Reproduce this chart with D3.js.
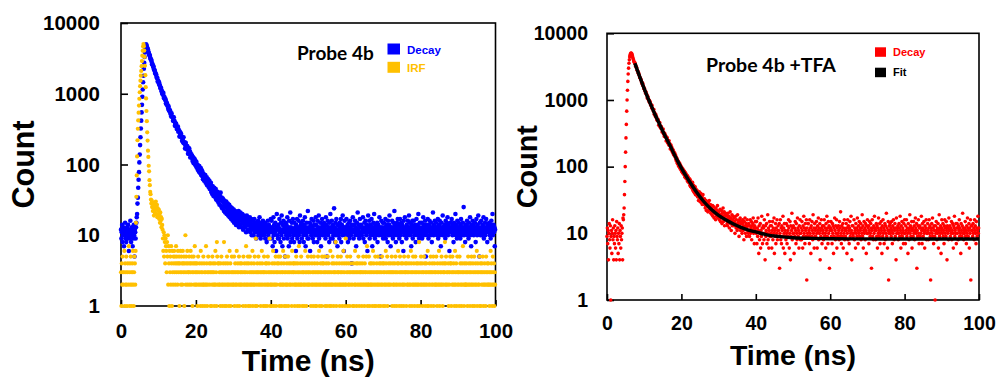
<!DOCTYPE html>
<html>
<head>
<meta charset="utf-8">
<script src="https://cdn.jsdelivr.net/npm/d3@7"></script>
<style>
  html, body { margin: 0; padding: 0; background: #fff; }
  svg { display: block; }
</style>
</head>
<body>
<svg id="fig" width="999" height="381"></svg>
<script>
// TCSPC histograms, one value per 0.1 ns channel from 0 to 99.9 ns
const CHANNEL_NS = 0.1;
const timeTicks = [0, 20, 40, 60, 80, 100];
const countTicks = [1, 10, 100, 1000, 10000];

// Probe 4b fluorescence decay
const decayCounts = [
  12, 9, 11, 14, 8, 10, 13, 11, 7, 12, 10, 15, 9, 11, 8, 12, 13, 10, 9, 14,
  11, 6, 10, 12, 9, 16, 11, 8, 10, 13, 12, 7, 11, 9, 14, 10, 5, 12, 11, 9, 13, 15,
  18, 20, 28, 34, 47, 61, 78, 107, 138, 188, 243, 322, 417, 545, 697, 905, 1148, 1455, 1796, 2262,
  2741, 3310, 3842, 4361, 4738, 5010,
  4838, 4548, 4510, 4260, 4217, 3908, 3812, 3569, 3566, 3458,
  3239, 3097, 3041, 2988, 2799, 2612, 2637, 2510, 2391, 2430,
  2202, 2182, 2127, 1959, 1969, 1875, 1873, 1721, 1674, 1672,
  1492, 1530, 1504, 1391, 1436, 1316, 1305, 1201, 1202, 1201,
  1092, 1098, 998, 1040, 987, 1028, 913, 864, 896, 854,
  813, 836, 731, 761, 705, 731, 678, 675, 616, 667,
  579, 602, 568, 580, 523, 535, 477, 528, 477, 474,
  472, 417, 420, 465, 407, 410, 354, 383, 349, 379,
  349, 318, 341, 317, 343, 291, 312, 293, 248, 292,
  261, 251, 277, 247, 250, 216, 242, 230, 204, 243,
  199, 203, 206, 168, 186, 202, 183, 164, 165, 182,
  173, 142, 158, 143, 170, 142, 154, 126, 142,
  129, 139, 125, 133, 112, 127, 121, 104, 122, 110,
  118, 99, 108, 96, 110, 91, 101, 98, 84, 97,
  92, 79, 95, 88, 76, 85, 89, 71, 80, 83,
  68, 77, 62, 74, 72, 59, 70, 63, 71, 55,
  64, 58, 66, 51, 60, 53, 62, 48, 56, 59,
  45, 53, 47, 55, 41, 50, 44, 38, 49, 46,
  36, 44, 47, 35, 42, 39, 45, 32, 40, 37,
  31, 41, 34, 29, 38, 35, 27, 36, 33, 40,
  26, 31, 34, 24, 30, 33, 25, 29, 22, 31,
  27, 21, 28, 25, 30, 20, 26, 23, 28, 19,
  24, 21, 27, 18, 23, 20, 25, 17, 22, 19,
  24, 16, 21, 18,
  23, 15, 20, 17, 22, 19, 14, 21, 18, 16, 20, 15, 18, 22, 13, 17, 19, 14, 21, 16,
  18, 13, 16, 20, 15, 12, 17, 19, 14, 16, 13, 18, 15, 11, 16, 19, 14, 12, 17, 15,
  16, 12, 14, 18, 11, 15, 13, 17, 10, 14, 12, 16, 14, 10, 13, 17, 11, 15, 12, 14,
  9, 13, 15, 11, 12, 16, 10, 14, 12, 18, 11, 13, 9, 15, 12, 10, 14, 12, 16, 11,
  13, 10, 12, 15, 9, 11, 14, 12, 8, 13, 11, 16, 10, 12, 14, 9, 11, 13, 12, 17,
  11, 16, 9, 13, 7, 12, 18, 10, 14, 8, 11, 15, 12, 6, 13, 20, 10, 12, 9, 14,
  13, 9, 17, 11, 12, 8, 15, 10, 19, 12, 7, 14, 11, 16, 9, 12, 13, 5, 11, 15,
  10, 14, 12, 18, 9, 11, 13, 7, 16, 10, 12, 21, 8, 13, 11, 15, 9, 12, 17, 10,
  12, 8, 15, 11, 13, 10, 6, 14, 12, 17, 9, 11, 13, 16, 10, 12, 8, 19, 11, 14,
  15, 11, 9, 13, 12, 16, 10, 8, 14, 11, 18, 12, 7, 13, 10, 15, 11, 9, 22, 12,
  9, 13, 11, 15, 6, 12, 14, 10, 17, 11, 13, 9, 12, 16, 8, 11, 14, 10, 12, 18,
  14, 10, 12, 8, 16, 11, 13, 19, 9, 12, 10, 15, 11, 7, 13, 12, 17, 10, 14, 11,
  11, 15, 13, 10, 12, 9, 18, 11, 14, 5, 12, 16, 10, 13, 11, 8, 15, 12, 20, 9,
  13, 11, 16, 12, 9, 14, 10, 12, 24, 11, 13, 8, 15, 10, 17, 12, 11, 7, 14, 12,
  10, 12, 9, 15, 13, 11, 17, 8, 12, 14, 10, 19, 11, 13, 6, 12, 16, 10, 13, 11,
  12, 17, 11, 10, 14, 8, 13, 12, 15, 9, 11, 16, 13, 10, 12, 4, 14, 11, 18, 12,
  9, 12, 14, 11, 16, 10, 13, 7, 12, 15, 11, 21, 10, 12, 14, 9, 11, 17, 13, 10,
  14, 11, 10, 13, 12, 18, 9, 12, 11, 15, 8, 13, 16, 11, 10, 12, 14, 6, 13, 19,
  11, 13, 16, 9, 12, 10, 14, 11, 17, 12, 7, 13, 10, 15, 12, 20, 11, 9, 14, 12,
  13, 10, 12, 15, 8, 11, 14, 12, 10, 18, 13, 11, 5, 12, 16, 10, 13, 11, 15, 9,
  12, 15, 11, 13, 10, 17, 9, 12, 14, 11, 13, 8, 16, 12, 10, 14, 19, 11, 12, 7,
  10, 13, 12, 16, 11, 9, 15, 13, 12, 22, 10, 14, 11, 8, 13, 12, 15, 10, 17, 11,
  14, 12, 9, 11, 17, 13, 10, 15, 12, 8, 14, 11, 13, 6, 16, 12, 10, 18, 11, 13,
  11, 9, 14, 12, 10, 16, 13, 11, 19, 12, 15, 10, 13, 12, 7, 14, 11, 16, 9, 12,
  13, 16, 10, 12, 14, 11, 8, 13, 17, 12, 10, 14, 11, 20, 12, 9, 13, 15, 11, 10,
  12, 10, 15, 9, 13, 12, 18, 11, 14, 10, 12, 16, 13, 5, 11, 14, 12, 10, 17, 13,
  9, 14, 12, 16, 11, 13, 10, 15, 12, 8, 13, 11, 21, 12, 10, 14, 11, 16, 13, 12,
  15, 11, 13, 10, 12, 17, 9, 12, 14, 11, 16, 10, 13, 7, 12, 15, 11, 13, 19, 10,
  11, 13, 10, 14, 12, 9, 16, 13, 11, 15, 12, 18, 10, 14, 11, 13, 6, 12, 15, 11,
  13, 12, 17, 11, 10, 14, 12, 8, 15, 13, 11, 12, 20, 10, 14, 12, 9, 16, 11, 13,
  10, 15, 12, 13, 11, 9, 14, 17, 12, 10, 13, 11, 15, 12, 25, 10, 13, 11, 8, 14,
  12, 11, 14, 16, 10, 13, 12, 9, 15, 11, 13, 18, 10, 12, 7, 14, 11, 13, 16, 12,
  14, 10, 12, 11, 15, 13, 8, 12, 17, 11, 10, 14, 12, 19, 13, 11, 5, 15, 12, 10,
  11, 16, 13, 10, 12, 14, 11, 18, 9, 13, 12, 15, 10, 12, 17, 11, 13, 8, 14, 12,
  13, 11, 15, 12, 10, 14, 9, 12, 16, 11, 13, 20, 10, 12, 14, 11, 13, 7, 12
];

// Instrument response function (zero-count channels are not drawn on the log axis)
const irfCounts = [
  3, 1, 4, 2, 5, 3, 2, 0, 3, 6, 1, 4, 2, 3, 5, 2, 1, 3, 4, 0,
  2, 7, 3, 1, 4, 2, 5, 3, 1, 2, 4, 3, 6, 2, 1, 3, 5, 4, 2,
  6, 15, 35, 70, 130, 220, 320, 420, 540, 680, 850, 1050, 1280, 1530, 1800, 2100,
  2450, 2900, 3450, 4050, 4650, 5050,
  4700, 4080, 3320, 2480, 1830, 1240, 860, 570, 410, 285,
  218, 157, 128, 96, 80, 60, 51, 41, 38, 32,
  28, 31, 25, 29, 22, 27, 24, 19, 26, 21,
  28, 23, 30, 20, 25, 27, 18, 24, 22, 19,
  23, 17, 20, 15, 21, 16, 18, 13, 17, 14,
  12, 9, 6, 11, 5, 10, 8, 4, 9, 7,
  6, 3, 8, 5, 10, 2, 7, 4, 1, 6,
  3, 5, 2, 7, 4, 1, 6, 3, 2, 5,
  4, 6, 3, 5, 2, 4, 7, 3, 5, 4, 2, 6, 3, 4, 5, 1, 4, 3, 6, 2,
  5, 3, 4, 2, 6, 4, 3, 5, 1, 4, 3, 10, 2, 5, 4, 3, 6, 2, 4, 3,
  3, 5, 2, 4, 3, 6, 4, 2, 5, 3, 1, 4, 3, 5, 2, 4, 7, 3, 2, 4,
  3, 2, 4, 1, 3, 5, 2, 0, 3, 4, 2, 1, 6, 3, 2, 4, 3, 1, 2, 5,
  2, 4, 3, 1, 2, 3, 7, 2, 4, 1, 3, 2, 5, 3, 0, 4, 2, 3, 1, 4,
  3, 1, 2, 5, 3, 4, 2, 3, 1, 2, 4, 6, 2, 3, 1, 8, 5, 2, 4, 0,
  4, 2, 3, 2, 1, 4, 3, 5, 2, 3, 1, 2, 4, 3, 8, 2, 1, 3, 4, 2,
  1, 3, 5, 2, 4, 3, 2, 1, 3, 6, 2, 4, 1, 3, 2, 5, 3, 0, 2, 3,
  2, 5, 1, 3, 4, 2, 3, 2, 6, 1, 3, 4, 2, 3, 5, 1, 2, 4, 3, 2,
  3, 4, 2, 0, 3, 1, 5, 2, 3, 4, 2, 3, 1, 7, 2, 4, 3, 2, 5, 1,
  4, 2, 3, 5, 1, 2, 3, 4, 2, 3, 6, 1, 2, 3, 4, 2, 5, 3, 1, 9,
  2, 3, 1, 4, 3, 2, 5, 3, 0, 2, 4, 3, 1, 2, 3, 6, 4, 2, 3, 1,
  3, 5, 2, 3, 1, 4, 2, 3, 4, 1, 2, 5, 3, 2, 4, 3, 9, 1, 2, 3,
  2, 1, 3, 4, 2, 6, 3, 1, 2, 4, 3, 2, 5, 1, 3, 2, 4, 3, 0, 5,
  4, 3, 1, 2, 5, 3, 2, 4, 1, 3, 2, 3, 6, 2, 4, 1, 3, 5, 2, 3,
  1, 2, 4, 3, 2, 5, 1, 3, 4, 2, 3, 0, 2, 4, 3, 1, 6, 2, 3, 4,
  3, 4, 2, 1, 3, 2, 4, 5, 2, 3, 1, 4, 2, 3, 7, 2, 1, 3, 4, 2,
  5, 2, 3, 1, 4, 3, 2, 3, 1, 2, 4, 6, 3, 2, 1, 3, 4, 2, 5, 3,
  2, 3, 4, 2, 0, 3, 1, 5, 2, 4, 3, 2, 1, 3, 5, 2, 4, 3, 1, 2,
  3, 1, 2, 4, 3, 5, 2, 3, 6, 1, 2, 3, 4, 2, 3, 1, 5, 4, 2, 3,
  4, 2, 5, 3, 1, 2, 3, 4, 2, 1, 3, 5, 2, 4, 3, 2, 1, 3, 6, 2,
  1, 3, 2, 4, 5, 2, 3, 1, 4, 3, 2, 3, 8, 2, 1, 4, 3, 2, 5, 3,
  3, 2, 4, 1, 2, 3, 5, 2, 3, 4, 1, 2, 3, 6, 2, 4, 3, 1, 2, 9,
  2, 4, 3, 5, 1, 3, 2, 4, 2, 3, 1, 5, 3, 2, 4, 0, 3, 2, 1, 3,
  4, 1, 3, 2, 6, 2, 3, 4, 1, 3, 2, 4, 3, 5, 2, 1, 3, 4, 2, 3,
  3, 2, 1, 4, 3, 2, 5, 3, 2, 1, 4, 3, 2, 3, 5, 2, 7, 1, 3, 2,
  2, 5, 3, 1, 4, 2, 3, 2, 4, 3, 1, 2, 6, 3, 4, 2, 1, 3, 5, 2,
  1, 3, 4, 2, 3, 5, 2, 1, 3, 4, 2, 3, 1, 4, 2, 3, 5, 2, 4, 1,
  3, 4, 2, 3, 1, 2, 6, 4, 3, 2, 5, 1, 3, 2, 4, 3, 2, 0, 3, 4,
  2, 3, 5, 1, 3, 4, 2, 3, 2, 1, 4, 3, 5, 2, 3, 1, 2, 4, 3, 6,
  4, 2, 1, 3, 5, 2, 3, 4, 1, 3, 2, 4, 3, 2, 1, 5, 3, 2, 4, 3,
  3, 1, 4, 2, 3, 2, 5, 3, 4, 2, 1, 3, 2, 6, 4, 3, 1, 2, 3, 5,
  2, 4, 3, 1, 2, 5, 3, 2, 4, 3, 1, 2, 4, 3, 2, 8, 1, 3, 4, 2,
  5, 3, 2, 4, 1, 3, 2, 3, 5, 2, 4, 1, 3, 2, 4, 3, 2, 1, 6, 3,
  1, 2, 3, 4, 2, 3, 5, 1, 3, 2, 4, 3, 2, 5, 1, 3, 4, 2, 3, 2,
  3, 5, 2, 1, 4, 3, 2, 3, 6, 2, 1, 4, 3, 2, 3, 5, 2, 4, 1, 3,
  2, 3, 4, 3, 8, 2, 4, 5, 2, 3, 0, 3, 2, 4, 1, 3, 2, 3, 5, 4,
  4, 1, 3, 2, 5, 3, 2, 4, 3, 1, 2, 6, 3, 2, 4, 1, 3, 5, 2, 3,
  3, 2, 1, 5, 3, 4, 2, 3, 1, 2, 4, 3, 7, 2, 3, 1, 4, 2, 3, 2,
  2, 4, 3, 2, 1, 3, 5, 2, 4, 3, 2, 1, 3, 4, 2, 5, 3, 2, 1, 4,
  3, 2, 5, 1, 3, 2, 4, 3, 2, 6, 1, 3, 4, 2, 3, 2, 5, 1, 3, 4,
  1, 3, 2, 4, 3, 5, 2, 1, 3, 2, 4, 3, 2, 1, 5, 3, 2, 4, 3, 2,
  4, 2, 3, 1, 2, 3, 6, 2, 4, 3, 1, 2, 5, 3, 2, 4, 1, 3, 2
];

// Probe 4b + TFA fluorescence decay
const tfaCounts = [
  9, 12, 7, 11, 4, 10, 14, 8, 6, 13, 1, 9, 11, 5, 10, 16, 8, 12, 4, 9,
  7, 13, 10, 6, 11, 4, 15, 9, 8, 12, 5, 10, 7, 14, 4, 11, 9, 6, 13, 8,
  10, 12, 4, 17, 16, 19,
  24, 38, 60, 100, 165, 270, 430, 680, 1000, 1400, 1900, 2450, 3000, 3550, 4000, 4400,
  4700, 4900, 5000, 5050,
  4990, 4870, 4650, 4420, 4200, 4000, 3830, 3700,
  3643, 3622, 3437, 3217, 3222, 3051, 3042, 2802, 2753, 2686,
  2514, 2553, 2379, 2360, 2159, 2172, 2122, 1997, 1995, 1829,
  1838, 1725, 1777, 1638, 1610, 1473, 1492, 1475, 1361, 1347,
  1264, 1316, 1209, 1208, 1074, 1123, 1113, 1020, 1014, 941,
  978, 910, 940, 842, 843, 838, 757, 829, 743, 737,
  716, 679, 718, 612, 644, 607, 567, 609, 548, 563,
  500, 518, 486, 515, 483, 417, 464, 429, 456, 391,
  402, 375, 400, 374, 330, 360, 337, 366, 308, 321,
  283, 316, 282, 296, 280, 242, 278, 250, 272, 227,
  246, 232, 212, 245, 212, 221, 184, 203, 211, 181,
  196, 169, 182, 160, 178, 151, 165, 147, 160, 139, 151, 128, 140, 121, 133, 112, 125, 108, 119, 101,
  114, 97, 110, 92, 104, 89, 99,
  84, 95, 81, 92, 78, 88, 76, 85, 70, 82, 69, 79, 66, 75, 73, 61, 72, 59, 68, 64,
  57, 66, 52, 63, 50, 59, 49, 56, 47, 58, 44, 53, 42, 51, 48, 40, 50, 38, 46, 43,
  39, 44, 36, 35, 41, 31, 38, 42, 33, 30, 37, 40, 29, 34, 36, 27, 33, 38, 28, 31,
  27, 33, 29, 24, 26, 31, 22, 28, 30, 25, 21, 29, 26, 23, 31, 22, 24, 27, 20, 25,
  24, 19, 21, 26, 18, 22, 25, 17, 20, 23, 21, 16, 24, 19, 18, 22, 26, 17, 20, 19,
  21, 16, 18, 23, 15, 19, 17, 22, 14, 20, 18, 24, 15, 17, 21, 13, 19, 16, 20, 18,
  16, 19, 14, 13, 20, 17, 15, 18, 12, 16, 21, 14, 17, 11, 15, 19, 13, 16, 18, 14,
  13, 17, 15, 10, 14, 18, 12, 16, 13, 11, 19, 14, 12, 15, 9, 16, 13, 17, 11, 14,
  12, 15, 10, 14, 16, 11, 13, 8, 15, 12, 17, 10, 13, 14, 9, 12, 16, 11, 13, 10,
  14, 11, 9, 13, 16, 10, 12, 15, 8, 13, 11, 14, 17, 10, 12, 7, 13, 11, 15, 12,
  10, 15, 7, 12, 9, 17, 11, 5, 13, 8, 10, 14, 6, 11, 9, 18, 12, 7, 10, 13,
  12, 8, 16, 10, 4, 13, 9, 11, 14, 7, 10, 19, 8, 12, 6, 11, 15, 9, 13, 10,
  9, 13, 6, 11, 15, 8, 12, 10, 17, 5, 11, 9, 14, 7, 12, 10, 16, 8, 11, 13,
  11, 9, 14, 3, 10, 16, 8, 12, 7, 13, 11, 9, 18, 6, 12, 10, 14, 5, 11, 9,
  8, 14, 10, 7, 13, 11, 9, 16, 12, 6, 10, 15, 4, 13, 9, 11, 20, 8, 12, 10,
  13, 10, 5, 12, 9, 15, 11, 7, 14, 10, 8, 17, 12, 9, 11, 6, 13, 10, 16, 8,
  10, 12, 8, 15, 11, 6, 13, 9, 18, 10, 12, 7, 14, 11, 9, 16, 2, 12, 10, 14,
  14, 9, 11, 7, 16, 10, 12, 5, 13, 9, 15, 11, 8, 19, 10, 12, 6, 14, 9, 11,
  9, 12, 15, 10, 6, 13, 11, 17, 8, 12, 10, 14, 4, 11, 9, 16, 12, 7, 13, 10,
  11, 8, 13, 16, 9, 12, 10, 6, 14, 11, 18, 9, 12, 7, 15, 10, 13, 3, 11, 12,
  12, 15, 9, 11, 7, 14, 10, 13, 5, 12, 9, 17, 11, 8, 13, 10, 16, 6, 12, 9,
  10, 13, 11, 8, 15, 9, 12, 21, 10, 7, 13, 11, 9, 14, 6, 12, 10, 16, 8, 11,
  9, 11, 14, 12, 5, 10, 16, 8, 13, 11, 7, 12, 15, 9, 10, 18, 11, 4, 13, 10,
  13, 9, 10, 16, 8, 12, 11, 6, 14, 10, 12, 9, 17, 11, 7, 13, 10, 15, 9, 12,
  11, 14, 8, 12, 10, 19, 9, 13, 6, 11, 15, 10, 12, 8, 14, 11, 5, 13, 10, 16,
  10, 12, 13, 7, 11, 15, 9, 10, 14, 12, 3, 11, 16, 9, 12, 8, 13, 10, 18, 11,
  12, 8, 11, 14, 9, 13, 6, 12, 10, 17, 11, 9, 14, 7, 10, 12, 15, 11, 5, 13,
  9, 16, 10, 12, 7, 11, 14, 8, 13, 10, 20, 9, 12, 6, 11, 15, 2, 10, 13, 11,
  14, 10, 12, 9, 15, 11, 7, 13, 10, 16, 12, 8, 11, 14, 9, 12, 4, 17, 10, 12,
  11, 13, 8, 10, 14, 12, 9, 18, 11, 6, 13, 10, 15, 9, 12, 11, 7, 14, 10, 16,
  10, 7, 13, 11, 16, 9, 12, 10, 5, 14, 11, 8, 12, 19, 10, 13, 9, 11, 15, 6,
  12, 11, 9, 15, 10, 13, 8, 11, 17, 12, 10, 14, 3, 11, 9, 13, 16, 10, 7, 12,
  13, 9, 12, 10, 18, 11, 7, 14, 12, 9, 11, 15, 10, 6, 13, 11, 12, 16, 8, 10,
  10, 14, 11, 8, 12, 16, 10, 13, 9, 2, 12, 11, 14, 10, 17, 9, 12, 7, 13, 11,
  9, 1, 13, 10, 15, 11, 8, 12, 10, 14, 6, 11, 19, 9, 12, 10, 13, 5, 11, 16,
  12, 10, 14, 9, 11, 7, 13, 16, 10, 12, 9, 15, 11, 4, 13, 10, 12, 8, 17, 11,
  11, 13, 9, 12, 10, 15, 8, 11, 14, 10, 6, 13, 12, 18, 9, 11, 10, 14, 7, 12,
  14, 10, 12, 8, 13, 11, 16, 9, 12, 10, 5, 14, 11, 9, 13, 20, 10, 12, 8, 11,
  10, 12, 15, 9, 11, 7, 13, 10, 17, 12, 9, 11, 14, 6, 12, 10, 16, 2, 13, 11,
  13, 11, 9, 14, 10, 12, 8, 16, 11, 13, 10, 7, 15, 12, 9, 11, 18, 10, 12
];

// Fitted decay curve for the TFA sample
const fitTime   = [7.5, 8, 9, 10, 11, 12, 13, 14, 15, 16, 17, 18, 19, 20, 22, 24, 26, 28, 30,
                   32, 34, 36, 38, 40, 43, 46, 50, 55, 60, 70, 80, 90, 100];
const fitCounts = [3550, 2950, 2090, 1480, 1070, 794, 589, 447, 339, 263, 204, 156, 121, 95, 62, 42, 30, 23, 18.6,
                   15.8, 13.8, 12.3, 11.2, 10.5, 9.5, 9.0, 8.6, 8.4, 8.3, 8.25, 8.2, 8.2, 8.2];

const BLUE = "#0000ff", GOLD = "#ffc000", RED = "#ff0000", BLACK = "#000000";
const AXIS_FONT = "'Liberation Sans', Arial, Helvetica, sans-serif";
const TITLE_FONT = "Lato, 'Open Sans', 'Noto Sans', sans-serif";

const svg = d3.select("#fig");

function toPoints(counts) {
  return counts
    .map((c, i) => ({ t: i * CHANNEL_NS, c }))
    .filter(d => d.c > 0 && d.t <= 100);
}

function drawPanel(o) {
  const x = d3.scaleLinear().domain([0, 100]).range([o.left, o.right]);
  const y = d3.scaleLog().domain([1, 10000]).range([o.bottom, o.top]);
  const g = svg.append("g");

  g.append("rect")
    .attr("x", o.left).attr("y", o.top)
    .attr("width", o.right - o.left).attr("height", o.bottom - o.top)
    .attr("fill", "none").attr("stroke", BLACK).attr("stroke-width", 1.6);

  const gx = g.append("g")
    .attr("transform", `translate(0,${o.bottom})`)
    .call(d3.axisBottom(x).tickValues(timeTicks).tickSize(-6).tickPadding(o.xPad).tickFormat(d3.format("d")));
  const gy = g.append("g")
    .attr("transform", `translate(${o.left},0)`)
    .call(d3.axisLeft(y).tickValues(countTicks).tickSize(-7).tickPadding(o.yPad).tickFormat(d3.format("d")));
  [gx, gy].forEach(a => {
    a.select(".domain").remove();
    a.attr("font-family", AXIS_FONT).attr("font-size", o.tickFont).attr("font-weight", "bold");
    a.selectAll(".tick line").attr("stroke", BLACK).attr("stroke-width", 1.6);
    a.selectAll(".tick text").attr("fill", BLACK);
  });

  o.series.forEach(s => {
    g.append("g").selectAll("circle")
      .data(toPoints(s.counts))
      .join("circle")
      .attr("cx", d => x(d.t))
      .attr("cy", d => y(d.c))
      .attr("r", s.r)
      .attr("fill", s.color);
  });

  if (o.fit) {
    const line = d3.line()
      .x((d, i) => x(fitTime[i]))
      .y(d => y(d))
      .curve(d3.curveMonotoneX);
    g.append("path")
      .attr("d", line(o.fit))
      .attr("fill", "none")
      .attr("stroke", BLACK)
      .attr("stroke-width", 3.4)
      .attr("stroke-linejoin", "round");
  }

  // axis titles
  g.append("text")
    .attr("transform", `translate(${o.yTitleX},${(o.top + o.bottom) / 2}) rotate(-90)`)
    .attr("text-anchor", "middle")
    .attr("font-family", AXIS_FONT).attr("font-weight", "bold")
    .attr("font-size", o.yTitleFont)
    .text("Count");
  g.append("text")
    .attr("x", (o.left + o.right) / 2).attr("y", o.xTitleY)
    .attr("text-anchor", "middle")
    .attr("font-family", AXIS_FONT).attr("font-weight", "bold")
    .attr("font-size", o.xTitleFont)
    .text("Time (ns)");

  // sample name
  g.append("text")
    .attr("x", o.title.x).attr("y", o.title.y)
    .attr("font-family", TITLE_FONT).attr("font-weight", "bold")
    .attr("font-size", o.title.size)
    .text(o.title.text);

  // legend
  o.legend.items.forEach((it, k) => {
    const ly = o.legend.y + k * o.legend.step;
    g.append("rect")
      .attr("x", o.legend.x).attr("y", ly)
      .attr("width", o.legend.w).attr("height", o.legend.h)
      .attr("fill", it.color);
    g.append("text")
      .attr("x", o.legend.x + o.legend.w + 7).attr("y", ly + o.legend.h - 1)
      .attr("font-family", AXIS_FONT).attr("font-weight", "bold")
      .attr("font-size", o.legend.size)
      .attr("fill", it.textColor)
      .text(it.label);
  });
}

drawPanel({
  left: 121, right: 495.5, top: 23, bottom: 306,
  tickFont: 20.5, xPad: 17, yPad: 21,
  yTitleX: 34, yTitleFont: 30.5, xTitleY: 371, xTitleFont: 30,
  series: [
    { counts: decayCounts, color: BLUE, r: 2.3 },
    { counts: irfCounts, color: GOLD, r: 2.1 }
  ],
  title: { text: "Probe 4b", x: 297, y: 60, size: 19 },
  legend: {
    x: 387.5, y: 43.5, step: 18.3, w: 12.5, h: 11, size: 11.5,
    items: [
      { label: "Decay", color: BLUE, textColor: BLUE },
      { label: "IRF", color: GOLD, textColor: GOLD }
    ]
  }
});

drawPanel({
  left: 607, right: 979, top: 33.3, bottom: 300,
  tickFont: 19.5, xPad: 16.5, yPad: 19,
  yTitleX: 537, yTitleFont: 28.8, xTitleY: 365, xTitleFont: 28.5,
  series: [
    { counts: tfaCounts, color: RED, r: 1.8 }
  ],
  fit: fitCounts,
  title: { text: "Probe 4b +TFA", x: 706, y: 72.3, size: 19.5 },
  legend: {
    x: 875, y: 47.3, step: 20.4, w: 11, h: 9.5, size: 11,
    items: [
      { label: "Decay", color: RED, textColor: RED },
      { label: "Fit", color: BLACK, textColor: BLACK }
    ]
  }
});
</script>
</body>
</html>
